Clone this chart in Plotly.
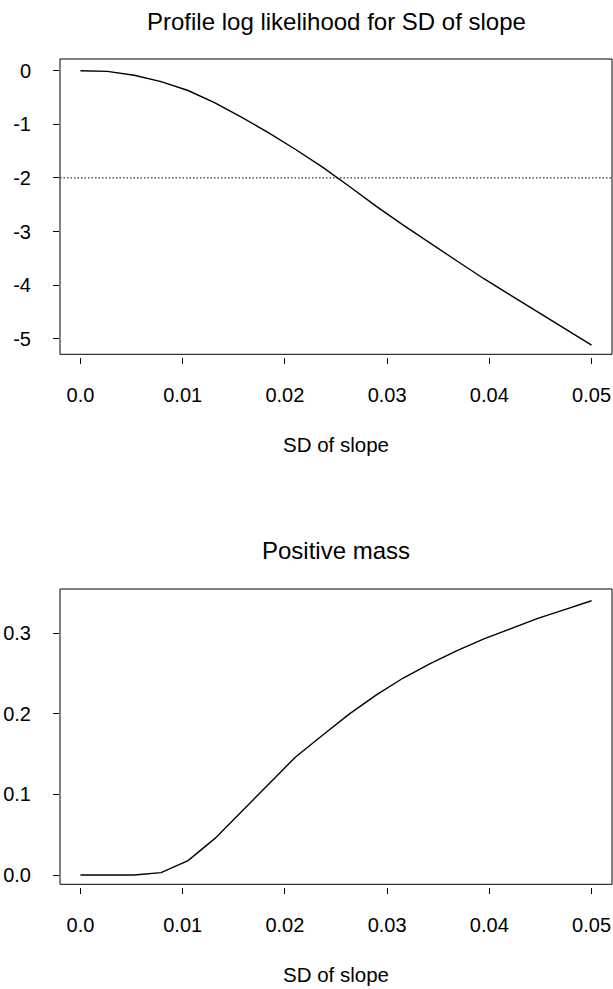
import plotly.graph_objects as go

# ---- data ----
sd_slope = [0.0, 0.00263, 0.00526, 0.00789, 0.01053, 0.01316, 0.01579, 0.01842,
            0.02105, 0.02368, 0.02632, 0.02895, 0.03158, 0.03421, 0.03684,
            0.03947, 0.04211, 0.04474, 0.04737, 0.05]
profile_ll = [0.0, -0.012, -0.085, -0.205, -0.37, -0.60, -0.87, -1.16, -1.47,
              -1.80, -2.16, -2.53, -2.88, -3.22, -3.55, -3.88, -4.19, -4.50,
              -4.81, -5.12]
pos_mass = [0.0, 0.0, 0.0, 0.003, 0.018, 0.0455, 0.079, 0.1136, 0.1466, 0.1735,
            0.200, 0.2235, 0.2445, 0.2625, 0.2785, 0.293, 0.306, 0.3185,
            0.3295, 0.3404]
cutoff = -2

x_ticks = [0.0, 0.01, 0.02, 0.03, 0.04, 0.05]
x_ticklabels = ["0.0", "0.01", "0.02", "0.03", "0.04", "0.05"]
y1_ticks = [0, -1, -2, -3, -4, -5]
y1_ticklabels = ["0", "-1", "-2", "-3", "-4", "-5"]
y2_ticks = [0.0, 0.1, 0.2, 0.3]
y2_ticklabels = ["0.0", "0.1", "0.2", "0.3"]

title1 = "Profile log likelihood for SD of slope"
title2 = "Positive mass"
xlab = "SD of slope"

# ---- layout geometry ----
W, H = 613, 989
M_T, M_B, M_L, M_R = 59, 101, 60, 1
PH = H - M_T - M_B
def py(px):
    return (H - M_B - px) / PH

FONT = "Liberation Sans, Arial, Helvetica, sans-serif"
fig = go.Figure()
fig.add_trace(go.Scatter(x=sd_slope, y=profile_ll, mode="lines",
                         line=dict(color="black", width=1.4),
                         xaxis="x", yaxis="y", showlegend=False, hoverinfo="skip"))
fig.add_trace(go.Scatter(x=sd_slope, y=pos_mass, mode="lines",
                         line=dict(color="black", width=1.4),
                         xaxis="x2", yaxis="y2", showlegend=False, hoverinfo="skip"))

xcommon = dict(range=[-0.002, 0.052], tickvals=x_ticks, ticktext=x_ticklabels,
               ticks="outside", ticklen=6, tickwidth=1, tickcolor="black",
               showgrid=False, zeroline=False, showline=False,
               ticklabelstandoff=14, tickfont=dict(size=20, color="black", family=FONT))
ycommon = dict(ticks="outside", ticklen=6, tickwidth=1, tickcolor="black",
               showgrid=False, zeroline=False, showline=False,
               ticklabelstandoff=18, tickfont=dict(size=20, color="black", family=FONT))

fig.update_layout(
    width=W, height=H,
    margin=dict(l=M_L, r=M_R, t=M_T, b=M_B),
    paper_bgcolor="white", plot_bgcolor="white",
    font=dict(family=FONT, color="black"),
    xaxis=dict(**xcommon, anchor="free", position=py(356.5), domain=[0, 1]),
    yaxis=dict(**ycommon, range=[-5.29, 0.218], tickvals=y1_ticks, ticktext=y1_ticklabels,
               domain=[py(354.3), 1], anchor="x"),
    xaxis2=dict(**xcommon, anchor="free", position=max(py(887.3), 0), domain=[0, 1]),
    yaxis2=dict(**ycommon, range=[-0.0115, 0.355], tickvals=y2_ticks, ticktext=y2_ticklabels,
                domain=[py(884.3), py(589)], anchor="x2"),
)

# boxes
for xr, yr in (("x domain", "y domain"), ("x2 domain", "y2 domain")):
    fig.add_shape(type="rect", xref=xr, yref=yr, x0=0, x1=1, y0=0, y1=1,
                  line=dict(color="black", width=1), fillcolor="rgba(0,0,0,0)")
# dotted cutoff line
fig.add_shape(type="line", xref="x domain", yref="y", x0=0, x1=1, y0=cutoff, y1=cutoff,
              line=dict(color="black", width=1, dash="1.5px,2px"))

# titles and axis labels
cx = 0.5
for text, ypx, size in ((title1, 22, 24), (xlab, 444, 20.5), (title2, 550, 24), (xlab, 974, 20.5)):
    fig.add_annotation(text=text, xref="paper", yref="paper", x=cx, y=py(ypx),
                       xanchor="center", yanchor="middle", showarrow=False,
                       font=dict(size=size, color="black", family=FONT))

fig.write_html("out.html", config={"displayModeBar": False},
               post_script="document.body.style.margin='0';document.body.style.overflow='hidden';")
